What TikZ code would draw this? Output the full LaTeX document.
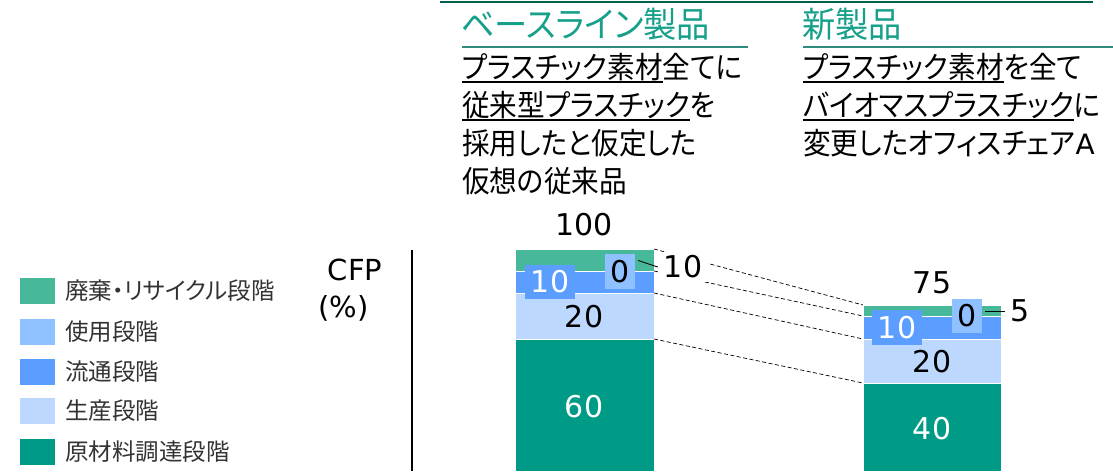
\documentclass[tikz,border=0pt]{standalone}
\usepackage{fontspec}
\setmainfont{DejaVu Sans}
\newfontfamily\jp[RawFeature=+palt]{Noto Sans CJK JP}
\newfontfamily\jpb[RawFeature=+palt, FakeStretch=0.92]{Noto Sans CJK JP}
\newfontfamily\jpt[RawFeature=+palt, FakeStretch=0.95]{Noto Sans CJK JP}
\definecolor{cwaste}{HTML}{47B99A}
\definecolor{cuse}{HTML}{8FC0FF}
\definecolor{cdist}{HTML}{5B9EFF}
\definecolor{cprod}{HTML}{BDD8FF}
\definecolor{cmat}{HTML}{009B87}
\definecolor{ctitle}{HTML}{16A08A}
\definecolor{ctop}{HTML}{00604F}
\definecolor{cul}{HTML}{2E8B7D}
\definecolor{clegtext}{HTML}{333333}
\newsavebox\ulbox
\newcommand\ulx[1]{\sbox\ulbox{#1}\rlap{\rule[-5pt]{\wd\ulbox}{2pt}}\usebox\ulbox}
\begin{document}
\begin{tikzpicture}[x=1pt,y=-1pt,
  seg/.style={draw=white, line width=0.6pt, inner sep=0pt, outer sep=0pt, anchor=north west},
  num/.style={font=\fontsize{30}{36}\selectfont, inner sep=0pt},
  conn/.style={draw=black, line width=0.7pt, dash pattern=on 4pt off 2.5pt},
  lead/.style={draw=black, line width=0.9pt},
  title/.style={font=\jpt\fontsize{35}{40}\selectfont, text=ctitle, inner sep=0pt, anchor=base west},
  body/.style={font=\jpb\fontsize{30}{34}\selectfont, inner sep=0pt, anchor=base west},
  legbox/.style={minimum width=35pt, minimum height=26pt, inner sep=0pt},
  legtext/.style={font=\jp\fontsize{23.5}{26}\selectfont, text=clegtext, inner sep=0pt, anchor=west},
  axislab/.style={font=\fontsize{29}{34}\selectfont, inner sep=0pt}]
\useasboundingbox (0,0) rectangle (1113,471);

% header lines
\draw[ctop, line width=2.5pt] (440,2) -- (1093,2);
\draw[cul, line width=2pt] (462,47) -- (748,47);
\draw[cul, line width=2pt] (803,47) -- (1113,47);

% titles
\node[title] (t1) at (461,37.5) {ベースライン製品};
\node[title] (t2) at (802,37.5) {新製品};

% body texts
\node[body] (l1a) at (462,78.4) {\ulx{プラスチック素材}全てに};
\node[body] (l1b) at (462,116.4) {\ulx{従来型プラスチック}を};
\node[body] (l1c) at (462,154.4) {採用したと仮定した};
\node[body] (l1d) at (462,192.4) {仮想の従来品};
\node[body] (l2a) at (803,78.4) {\ulx{プラスチック素材}を全て};
\node[body] (l2b) at (803,116.4) {\ulx{バイオマスプラスチック}に};
\node[body] (l2c) at (803,154.4) {変更したオフィスチェア{\fontspec{DejaVu Sans}\fontsize{28}{34}\selectfont A}};

% legend
\node[legbox, fill=cwaste] (k1) at (37.5,291) {};
\node[legbox, fill=cuse] (k2) at (37.5,332) {};
\node[legbox, fill=cdist] (k3) at (37.5,372) {};
\node[legbox, fill=cprod] (k4) at (37.5,411) {};
\node[legbox, fill=cmat] (k5) at (37.5,452) {};
\node[legtext] (k1t) at (65,291) {廃棄・リサイクル段階};
\node[legtext] (k2t) at (65,332) {使用段階};
\node[legtext] (k3t) at (65,372) {流通段階};
\node[legtext] (k4t) at (65,411) {生産段階};
\node[legtext] (k5t) at (65,452) {原材料調達段階};

% axis
\node[axislab] (cfp) at (355,270) {CFP};
\node[axislab] (pct) at (343.5,308) {(\%)};
\draw[line width=1.3pt] (412,250) -- (412,471);

% bar 1
\node[seg, fill=cwaste, minimum width=139pt, minimum height=22pt] (aw) at (515,249) {};
\node[seg, fill=cdist, minimum width=139pt, minimum height=22pt] (ad) at (515,271) {};
\node[seg, fill=cprod, minimum width=139pt, minimum height=46pt] (ap) at (515,293) {};
\node[seg, fill=cmat, minimum width=139pt, minimum height=132pt] (am) at (515,339) {};

% bar 2
\node[seg, fill=cwaste, minimum width=138pt, minimum height=11pt] (bw) at (863,305) {};
\node[seg, fill=cdist, minimum width=138pt, minimum height=23pt] (bd) at (863,316) {};
\node[seg, fill=cprod, minimum width=138pt, minimum height=44pt] (bp) at (863,339) {};
\node[seg, fill=cmat, minimum width=138pt, minimum height=88pt] (bm) at (863,383) {};

% dashed connectors
\draw[conn] (aw.north east) -- (bw.north west);
\draw[conn] (ad.north east) -- (bd.north west);
\draw[conn] (ap.north east) -- (bp.north west);
\draw[conn] (am.north east) -- (bm.north west);

% bar labels
\node[num] (tot1) at (584,225) {100};
\node[num] (tot2) at (932,283) {75};
\node[num] (a20) at (584,317) {20};
\node[num, text=white] (a60) at (584,407) {60};
\node[num] (b20) at (932,362) {20};
\node[num, text=white] (b40) at (932,429) {40};
\node[num, fill=cdist, text=white, minimum width=50pt, minimum height=34pt] (a10) at (550,282) {10};
\node[num, fill=cuse, minimum width=30pt, minimum height=35pt] (a0) at (620,271.5) {0};
\node[num, fill=white, minimum width=50pt, minimum height=30pt] (a10o) at (683,267) {10};
\draw[lead] ([shift={(3,-11)}]a0.east) -- (a10o.west);
\node[num, fill=cdist, text=white, minimum width=50pt, minimum height=35pt] (b10) at (897,327.5) {10};
\node[num, fill=cuse, minimum width=30pt, minimum height=34pt] (b0) at (967,316) {0};
\node[num, minimum width=30pt] (b5o) at (1020,311) {5};
\draw[lead] ([xshift=3pt]b0.east |- b5o.west) -- (b5o.west);
\end{tikzpicture}
\end{document}
